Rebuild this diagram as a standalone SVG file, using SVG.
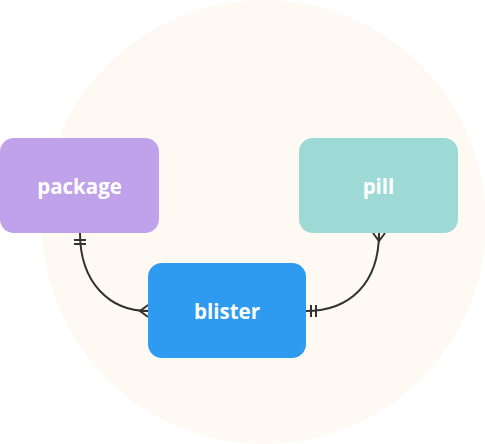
<svg xmlns="http://www.w3.org/2000/svg" width="485" height="444" viewBox="0 0 485 444">
<style>
.node text{font-family:"Open Sans","Liberation Sans",sans-serif;font-weight:700;font-size:20.5px;fill:#ffffff;text-anchor:middle;dominant-baseline:central}
.edge{fill:none;stroke:#333333;stroke-width:2}
</style>
<rect width="485" height="444" fill="#ffffff"/>
<circle cx="264" cy="222" r="222" fill="#fef9f3"/>
<g id="connectors">
<path class="edge" d="M80,233 C80,283 110,311 148,311"/>
<path class="edge" d="M74,240 H86 M74,244 H86"/>
<path class="edge" d="M148,305 L140,311 L148,317 M140,311 H148"/>
<path class="edge" d="M306,311 C350,311 379,283 379,233"/>
<path class="edge" d="M311,305 V317 M316,305 V317"/>
<path class="edge" d="M373,233 L379,241 L385,233 M379,233 V241"/>
</g>
<g id="package" class="node">
<rect x="0" y="138" width="159" height="95" rx="14" fill="#c0a2ea"/>
<text x="79.5" y="186">package</text>
</g>
<g id="pill" class="node">
<rect x="299" y="138" width="159" height="95" rx="14" fill="#9ddad6"/>
<text x="378.5" y="186">pill</text>
</g>
<g id="blister" class="node">
<rect x="148" y="263" width="158" height="95" rx="14" fill="#2e9bf0"/>
<text x="227" y="311">blister</text>
</g>
</svg>
